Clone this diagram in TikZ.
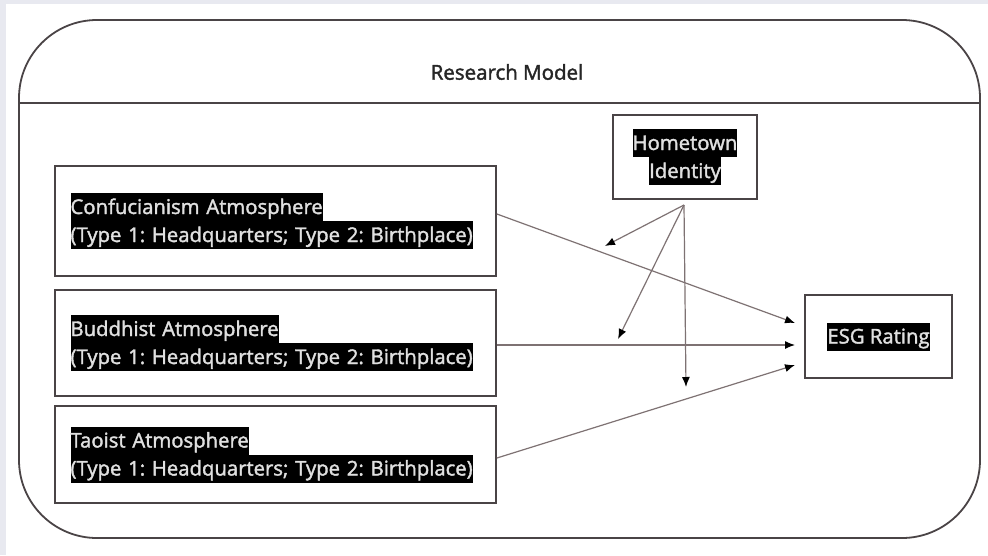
\documentclass[tikz,border=0pt]{standalone}
\usepackage{fontspec}
\setmainfont{Open Sans}
\newfontfamily\boxsans{Open Sans}[FakeBold=1.8]
\usetikzlibrary{positioning,arrows.meta}
\definecolor{framegray}{HTML}{4A4446}
\definecolor{linegray}{HTML}{7E7273}
\definecolor{pagebg}{HTML}{E8E9F0}
\newcommand{\myHl}[1]{{\setlength{\fboxsep}{0pt}\colorbox{black}{\rule[-7pt]{0pt}{28pt}\textcolor{white!88!black}{#1}}}}
\frenchspacing

\tikzset{
	varbox/.style = {draw=framegray, line width=1.8pt, inner sep=0pt,
		font=\boxsans\fontsize{20.3}{28}\selectfont},
	effect/.style = {draw=linegray, line width=1.2pt,
		-{Latex[length=10pt,width=8pt,color=black]}}
}

\begin{document}
\begin{tikzpicture}[x=1pt, y=-1pt]
	\fill[pagebg] (0,0) rectangle (988,555);
	\fill[white] (6,4) rectangle (988,555);
	\useasboundingbox (0,0) rectangle (988,555);

	\draw[framegray, line width=1.8pt, rounded corners=78pt] (19,20) rectangle (980,538);
	\draw[framegray, line width=1.8pt] (19,103) -- (980,103);
	\node[font=\boxsans\fontsize{20.5}{22}\selectfont, text=black!85] (title) at (507,72) {Research Model};

	\node[varbox, minimum width=441pt, minimum height=110pt, text width=410pt, align=left]
		(conf) at (275.5,221) {\myHl{Confucianism Atmosphere}\\\myHl{(Type 1: Headquarters; Type 2: Birthplace)}};
	\node[varbox, minimum width=441pt, minimum height=106pt, text width=410pt, align=left]
		(budd) at (275.5,343) {\myHl{Buddhist Atmosphere}\\\myHl{(Type 1: Headquarters; Type 2: Birthplace)}};
	\node[varbox, minimum width=441pt, minimum height=97pt, text width=410pt, align=left]
		(tao) at (275.5,454.5) {\myHl{Taoist Atmosphere}\\\myHl{(Type 1: Headquarters; Type 2: Birthplace)}};
	\node[varbox, minimum width=144pt, minimum height=84pt, align=center]
		(home) at (685,157) {\myHl{Hometown}\\\myHl{Identity}};
	\node[varbox, minimum width=147pt, minimum height=83pt]
		(esg) at (878.5,336.5) {\myHl{ESG Rating}};

	\coordinate (e1) at (795,323);
	\coordinate (e2) at (795,345);
	\coordinate (e3) at (795,365);
	\coordinate (hsrc) at (684,205);
	\coordinate (m1) at (605,246);
	\coordinate (m2) at (618,339);
	\coordinate (m3) at (686,387);

	\draw[effect] ([yshift=7pt]conf.east) -- (e1);
	\draw[effect] ([yshift=-2pt]budd.east) -- (e2);
	\draw[effect] ([yshift=-3.5pt]tao.east) -- (e3);

	\draw[effect] (hsrc) -- (m1);
	\draw[effect] (hsrc) -- (m2);
	\draw[effect] (hsrc) -- (m3);
\end{tikzpicture}
\end{document}
